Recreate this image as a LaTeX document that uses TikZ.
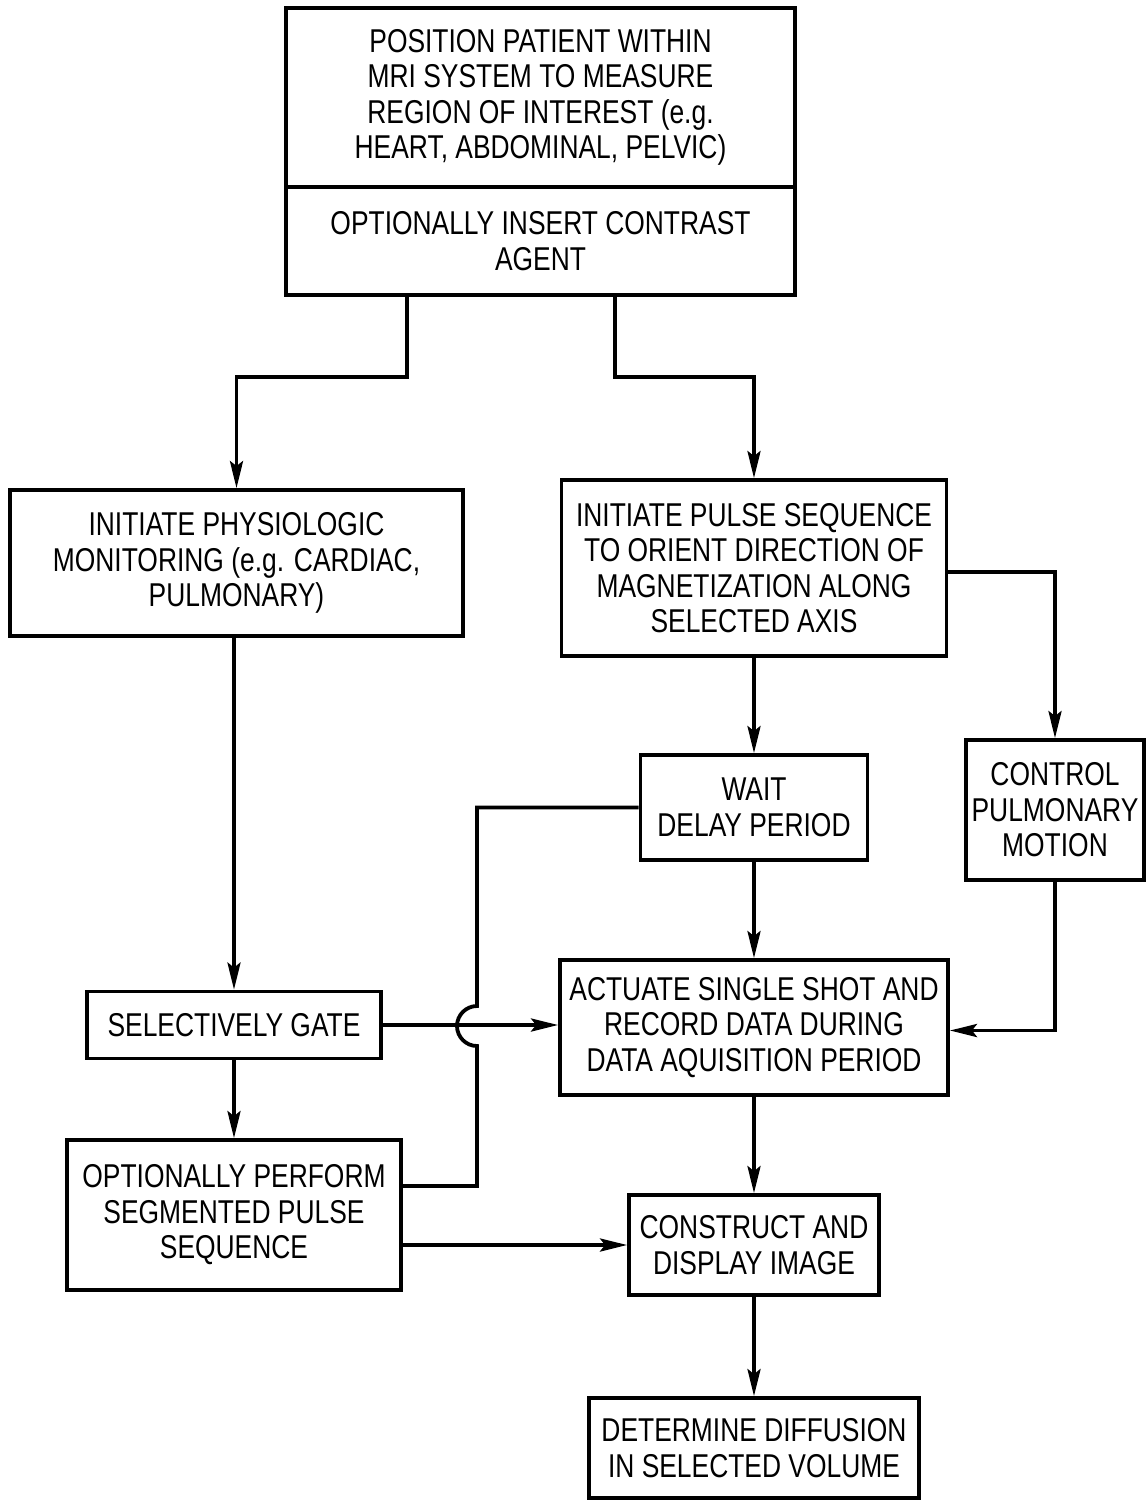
\documentclass[tikz,border=0pt]{standalone}
\usepackage{fontspec}
\setmainfont[FakeStretch=0.8]{Liberation Sans}
\usetikzlibrary{arrows.meta}
\begin{document}
\begin{tikzpicture}[x=0.5pt,y=-0.5pt,
  box/.style={draw, line width=1.9pt, align=center, inner sep=0pt,
    font=\fontsize{16.5}{17.75}\selectfont},
  conn/.style={line width=1.9pt},
  arr/.style={conn, -{Stealth[length=13.5pt,width=6.5pt,inset=2.5pt]}}]
\useasboundingbox (0,0) rectangle (1146,1501);
% nodes
\node[box, minimum width=254.5pt, minimum height=89.5pt] (topA) at (540.5,97.5)
  {POSITION PATIENT WITHIN\\MRI SYSTEM TO MEASURE\\REGION OF INTEREST (e.g.\\HEART, ABDOMINAL, PELVIC)};
\node[box, minimum width=254.5pt, minimum height=54pt] (topB) at (540.5,241)
  {OPTIONALLY INSERT CONTRAST\\AGENT};
\node[box, minimum width=226.5pt, minimum height=73pt] (physio) at (236.5,563)
  {INITIATE PHYSIOLOGIC\\MONITORING (e.g. CARDIAC,\\PULMONARY)};
\node[box, minimum width=192.5pt, minimum height=88pt] (pulse) at (754,568)
  {INITIATE PULSE SEQUENCE\\TO ORIENT DIRECTION OF\\MAGNETIZATION ALONG\\SELECTED AXIS};
\node[box, minimum width=89pt, minimum height=70pt] (ctrl) at (1055,810)
  {CONTROL\\PULMONARY\\MOTION};
\node[box, minimum width=113.5pt, minimum height=52.5pt] (wait) at (754,807.5)
  {WAIT\\DELAY PERIOD};
\node[box, minimum width=194pt, minimum height=67.5pt] (act) at (754,1027.5)
  {ACTUATE SINGLE SHOT AND\\RECORD DATA DURING\\DATA AQUISITION PERIOD};
\node[box, minimum width=147pt, minimum height=33.5pt] (gate) at (234,1025)
  {SELECTIVELY GATE};
\node[box, minimum width=167pt, minimum height=75pt] (perf) at (234,1215)
  {OPTIONALLY PERFORM\\SEGMENTED PULSE\\SEQUENCE};
\node[box, minimum width=125pt, minimum height=50pt] (cons) at (754,1245)
  {CONSTRUCT AND\\DISPLAY IMAGE};
\node[box, minimum width=165pt, minimum height=50pt] (det) at (754,1448)
  {DETERMINE DIFFUSION\\IN SELECTED VOLUME};
% connectors
\coordinate (jL) at (physio.north |- 0,377);
\coordinate (jR) at (pulse.north |- 0,377);
\draw[arr] ([xshift=-66.75pt]topB.south) |- (jL) -- (physio.north);
\draw[arr] ([xshift=37.25pt]topB.south) |- (jR) -- (pulse.north);
\draw[arr] (physio.south -| gate.north) -- (gate.north);
\draw[arr] ([yshift=-2pt]pulse.east) -| (ctrl.north);
\draw[arr] (pulse.south) -- (wait.north);
\draw[arr] (wait.south) -- (act.north);
\draw[arr] (ctrl.south) |- ([yshift=-1.5pt]act.east);
\draw[arr] (gate.east) -- (gate.east -| act.west);
\draw[arr] (gate.south) -- (perf.north);
\draw[arr] (cons.west -| perf.east) -- (cons.west);
\draw[arr] (act.south) -- (cons.north);
\draw[arr] (cons.south) -- (det.north);
% feedback line with hop
\coordinate (fb0) at ([yshift=14.5pt]perf.east);
\coordinate (hb) at (477,1046);
\coordinate (ht) at (477,1006);
\draw[conn] (fb0) -| (hb)
  .. controls (466,1046) and (457,1037) .. (457,1026)
  .. controls (457,1015) and (466,1006) .. (ht)
  |- (wait.west);
\end{tikzpicture}
\end{document}
